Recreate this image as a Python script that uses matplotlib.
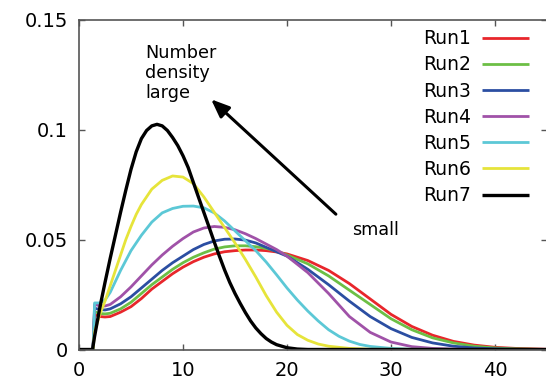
import matplotlib
matplotlib.use("Agg")
import matplotlib.pyplot as plt

plt.rcParams['font.family'] = ['DejaVu Sans']

labels = ["Run1", "Run2", "Run3", "Run4", "Run5", "Run6", "Run7"]
colors = ["#e8262b", "#6cbf45", "#2b4ea2", "#a052a8", "#5cc8d6", "#e6e43a", "#000000"]

# Run1 .. Run7
x1 = [0, 1.35, 1.5, 2, 2.5, 3, 4, 5, 6, 7, 8, 9, 10, 11, 12, 13, 14, 15, 16, 17, 18, 19, 20,
      22, 24, 26, 28, 30, 32, 34, 36, 38, 40, 42, 45]
y1 = [0, 0, 0.0160, 0.0150, 0.0148, 0.0150, 0.0170, 0.0195, 0.0232, 0.0275, 0.0310, 0.0345, 0.0375,
      0.0400, 0.0420, 0.0435, 0.0445, 0.0450, 0.0453, 0.0453, 0.0450, 0.0444, 0.0435,
      0.0405, 0.0360, 0.0300, 0.0230, 0.0160, 0.0105, 0.0065, 0.0037, 0.0020, 0.0010, 0.0005, 0.0001]

x2 = [0, 1.35, 1.5, 2, 2.5, 3, 4, 5, 6, 7, 8, 9, 10, 11, 12, 13, 14, 15, 16, 17, 18, 19, 20,
      22, 24, 26, 28, 30, 32, 34, 36, 38, 40, 42, 45]
y2 = [0, 0, 0.0172, 0.0164, 0.0162, 0.0165, 0.0185, 0.0215, 0.0255, 0.0295, 0.0330, 0.0365, 0.0395,
      0.0420, 0.0440, 0.0457, 0.0467, 0.0472, 0.0472, 0.0468, 0.0460, 0.0448, 0.0430,
      0.0390, 0.0335, 0.0270, 0.0205, 0.0140, 0.0090, 0.0053, 0.0030, 0.0015, 0.0007, 0.0003, 0]

x3 = [0, 1.35, 1.5, 2, 2.5, 3, 4, 5, 6, 7, 8, 9, 10, 11, 12, 13, 14, 15, 16, 17, 18, 19, 20,
      22, 24, 26, 28, 30, 32, 34, 36, 38, 40, 42, 45]
y3 = [0, 0, 0.0188, 0.0182, 0.0180, 0.0185, 0.0208, 0.0240, 0.0280, 0.0320, 0.0360, 0.0395, 0.0425,
      0.0455, 0.0478, 0.0494, 0.0502, 0.0503, 0.0498, 0.0485, 0.0465, 0.0445, 0.0425,
      0.0365, 0.0295, 0.0220, 0.0150, 0.0095, 0.0055, 0.0030, 0.0015, 0.0007, 0.0003, 0.0001, 0]

x4 = [0, 1.35, 1.5, 2, 2.5, 3, 4, 5, 6, 7, 8, 9, 10, 11, 12, 13, 14, 15, 16, 17, 18, 19, 20,
      22, 24, 26, 28, 30, 32, 34, 36, 38, 45]
y4 = [0, 0, 0.0205, 0.0199, 0.0198, 0.0205, 0.0240, 0.0285, 0.0335, 0.0385, 0.0430, 0.0470, 0.0505,
      0.0535, 0.0553, 0.0560, 0.0556, 0.0545, 0.0527, 0.0505, 0.0480, 0.0455, 0.0425,
      0.0350, 0.0255, 0.0150, 0.0078, 0.0034, 0.0013, 0.0005, 0.0002, 0, 0]

x5 = [0, 1.35, 1.5, 2, 2.5, 3, 4, 5, 6, 7, 8, 9, 10, 11, 12, 13, 14, 15, 16, 17, 18, 19, 20,
      21, 22, 23, 24, 25, 26, 27, 28, 30, 32, 45]
y5 = [0, 0, 0.0212, 0.0212, 0.0225, 0.0260, 0.0360, 0.0450, 0.0520, 0.0580, 0.0622, 0.0642, 0.0652,
      0.0653, 0.0645, 0.0622, 0.0585, 0.0540, 0.0495, 0.0450, 0.0398, 0.0340, 0.0280,
      0.0225, 0.0175, 0.0130, 0.0090, 0.0060, 0.0038, 0.0023, 0.0014, 0.0005, 0.0001, 0]

x6 = [0, 1.35, 1.5, 2, 2.5, 3, 3.5, 4, 4.5, 5, 5.5, 6, 7, 8, 9, 10, 11, 12, 13, 14, 15, 16, 17, 18,
      19, 20, 21, 22, 23, 24, 26, 28, 45]
y6 = [0, 0, 0.0080, 0.0160, 0.0220, 0.0290, 0.0360, 0.0430, 0.0500, 0.0560, 0.0615, 0.0660, 0.0730,
      0.0770, 0.0790, 0.0785, 0.0755, 0.0695, 0.0625, 0.0555, 0.0485, 0.0410, 0.0330, 0.0245,
      0.0170, 0.0110, 0.0068, 0.0042, 0.0025, 0.0015, 0.0005, 0.0001, 0]

x7 = [0, 1.3, 1.5, 2, 2.5, 3, 3.5, 4, 4.5, 5, 5.5, 6, 6.5, 7, 7.5, 8, 8.5, 9, 9.5, 10, 10.5, 11,
      11.5, 12, 12.5, 13, 13.5, 14, 14.5, 15, 15.5, 16, 16.5, 17, 17.5, 18, 18.5, 19, 20, 21, 22, 45]
y7 = [0, 0, 0.0060, 0.0190, 0.0305, 0.0415, 0.0520, 0.0625, 0.0725, 0.0820, 0.0900, 0.0960, 0.0997,
      0.1018, 0.1025, 0.1018, 0.0997, 0.0965, 0.0928, 0.0882, 0.0828, 0.0760, 0.0692, 0.0625,
      0.0558, 0.0490, 0.0425, 0.0362, 0.0305, 0.0255, 0.0210, 0.0168, 0.0130, 0.0098, 0.0072,
      0.0050, 0.0034, 0.0022, 0.0008, 0.0002, 0, 0]

xs = [x1, x2, x3, x4, x5, x6, x7]
ys = [y1, y2, y3, y4, y5, y6, y7]
widths = [2.0, 2.0, 2.0, 2.0, 2.0, 2.0, 2.4]

fig = plt.figure(figsize=(5.46, 3.80), dpi=100)
ax = fig.add_axes([79 / 546, 30.5 / 380, 468 / 546, 329.5 / 380])

for i in range(len(labels)):
    ax.plot(xs[i], ys[i], color=colors[i], lw=widths[i], label=labels[i],
            solid_joinstyle="round", solid_capstyle="butt")

ax.set_xlim(0, 45)
ax.set_ylim(0, 0.15)
ax.set_xticks([0, 10, 20, 30, 40])
ax.set_yticks([0, 0.05, 0.1, 0.15])
ax.set_yticklabels(["0", "0.05", "0.1", "0.15"])
ax.tick_params(direction="in", length=4, width=1, top=True, right=True,
               labelsize=14, pad=8, color="#555555")
for s in ax.spines.values():
    s.set_color("#555555")
    s.set_linewidth(1.2)

# annotation
ax.text(6.35, 0.1392, "Number\ndensity\nlarge", fontsize=12.7, va="top", ha="left",
        linespacing=1.15)
ax.text(26.3, 0.052, "small", fontsize=12.7, va="baseline", ha="left")
ax.annotate("", xy=(12.7, 0.1139), xytext=(24.7, 0.0616),
            arrowprops=dict(arrowstyle="-|>,head_length=1.1,head_width=0.45",
                            color="black", lw=2.2, shrinkA=0, shrinkB=0))

ax.legend(loc="upper right", bbox_to_anchor=(0.982, 1.0), frameon=False,
          markerfirst=False, fontsize=13.5, handlelength=2.5, handletextpad=0.6,
          labelspacing=0.38, borderaxespad=0.1)

fig.savefig("out.png", dpi=100)
